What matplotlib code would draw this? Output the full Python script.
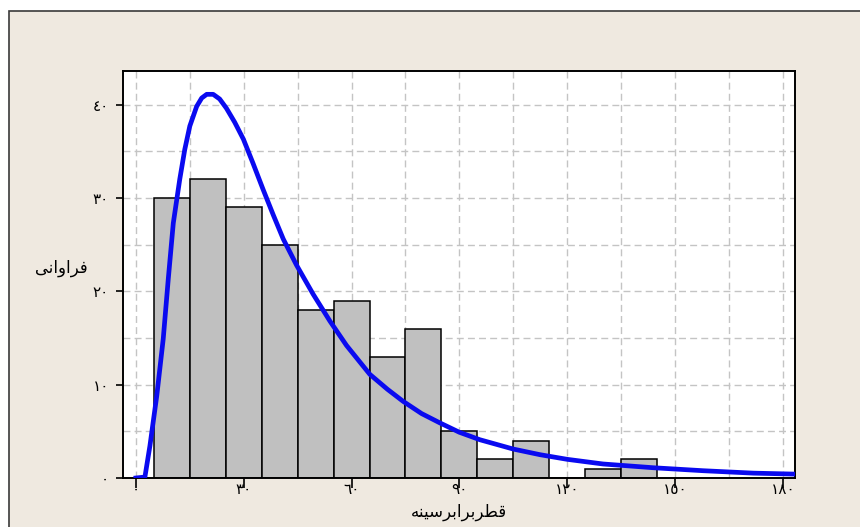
"""
Histogram of breast-height diameter with fitted frequency curve.
"""

import matplotlib.pyplot as plt
from matplotlib.patches import Rectangle
from matplotlib.ticker import MultipleLocator

# histogram: bin centres and counts
bin_centers = [10, 20, 30, 40, 50, 60, 70, 80, 90, 100, 110, 120, 130, 140]
counts = [30, 32, 29, 25, 18, 19, 13, 16, 5, 2, 4, 0, 1, 2]
bin_width = 10

# fitted curve
curve_x = [0, 2.5, 3.9, 5.8, 7.6, 9.0, 10.4, 12.2, 13.6, 15.0, 16.9, 18.3, 19.7,
           21.5, 23.3, 25.2, 27.5, 29.9, 32.6, 35.4, 38.2, 41.0, 44.7, 49.3,
           54.0, 58.6, 65.1, 70.0, 74.4, 79.5, 84.6, 90.0, 95.7, 105.0, 112.4,
           120.0, 130.0, 143.9, 157.8, 171.8, 183.0]
curve_y = [0, 0.1, 3.45, 8.8, 14.9, 21.3, 27.3, 32.0, 35.2, 37.7, 39.8, 40.7, 41.1,
           41.1, 40.6, 39.6, 38.1, 36.3, 33.7, 30.9, 28.2, 25.6, 22.8, 19.7,
           16.8, 14.2, 11.1, 9.5, 8.2, 6.9, 5.9, 4.9, 4.1, 3.1, 2.5,
           2.0, 1.5, 1.1, 0.78, 0.52, 0.42]

x_ticks = [0, 30, 60, 90, 120, 150, 180]
x_tick_labels = ["\u0660", "\u0663\u0660", "\u0666\u0660", "\u0669\u0660",
                 "\u0661\u0662\u0660", "\u0661\u0665\u0660", "\u0661\u0668\u0660"]
y_ticks = [0, 10, 20, 30, 40]
y_tick_labels = ["\u0660", "\u0661\u0660", "\u0662\u0660", "\u0663\u0660", "\u0664\u0660"]

# labels written in shaped (presentation) forms, visual order
y_label = "\uFEF0\uFEE7\uFE8D\uFEED\uFE8D\uFEAE\uFED3"  # فراوانی
x_label = ("\uFEEA\uFEE8\uFEF4\uFEB3\uFEAE\uFE91\uFE8D\uFEAE\uFE91\uFEAE"
           "\uFEC4\uFED7")  # قطربرابرسینه

plt.rcParams["font.family"] = ["DejaVu Sans"]

fig = plt.figure(figsize=(8.6, 5.27), dpi=100, facecolor="white")

# beige panel behind the plot
fig.patches.append(
    Rectangle((9 / 860, -0.1), 1.0, 1 - 11 / 527 + 0.1, transform=fig.transFigure,
              facecolor="#EFE9E0", edgecolor="#3a3a3a", linewidth=1.2, zorder=-5)
)

ax = fig.add_axes([0.143, 0.093, 0.7814, 0.7723])
ax.set_facecolor("white")

ax.bar(bin_centers, counts, width=bin_width, color="#C0C0C0",
       edgecolor="black", linewidth=1.1, zorder=2)
ax.plot(curve_x, curve_y, color="#0A0AF0", linewidth=3.4, zorder=3,
        solid_joinstyle="round")

ax.set_xlim(-3.6, 183.4)
ax.set_ylim(0, 43.6)

ax.set_xticks(x_ticks)
ax.set_xticklabels(x_tick_labels, fontsize=11)
ax.set_yticks(y_ticks)
ax.set_yticklabels(y_tick_labels, fontsize=11)
ax.xaxis.set_minor_locator(MultipleLocator(15))
ax.yaxis.set_minor_locator(MultipleLocator(5))

ax.grid(which="both", color="#C4C4C4", linestyle=(0, (5, 3)), linewidth=1.0,
        zorder=0)
ax.set_axisbelow(True)

ax.tick_params(axis="both", which="minor", length=0)
ax.tick_params(axis="x", which="major", direction="out", length=7, width=1.2,
               pad=-4)
ax.tick_params(axis="y", which="major", direction="out", length=5, width=1.2,
               pad=5)

for spine in ax.spines.values():
    spine.set_linewidth(1.4)
    spine.set_color("black")

fig.text(61 / 860, 1 - 268 / 527, y_label, fontsize=12, ha="center",
         va="center")
fig.text(459 / 860, 1 - 512 / 527, x_label, fontsize=12, ha="center",
         va="center")

fig.savefig("out.png", dpi=100, facecolor="white")
